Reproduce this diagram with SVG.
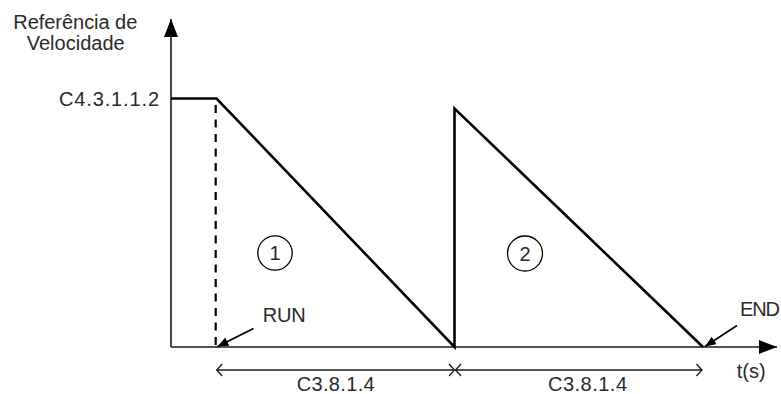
<svg xmlns="http://www.w3.org/2000/svg" width="781" height="394" viewBox="0 0 781 394">
<style>
text{font-family:"Liberation Sans",Arial,sans-serif;font-size:20px;fill:#2a2a2a}
.ax{stroke:#1a1a1a;stroke-width:1.6;fill:none}
.cv{stroke:#000;stroke-width:2.6;fill:none;stroke-linejoin:miter}
.dash{stroke:#000;stroke-width:2.2;stroke-dasharray:8 6.5;fill:none}
.ptr{stroke:#000;stroke-width:1.6;fill:none}
.dim{stroke:#1a1a1a;stroke-width:1.3;fill:none}
.cir{stroke:#000;stroke-width:1.3;fill:#fff}
</style>
<defs>
<marker id="big" markerUnits="userSpaceOnUse" markerWidth="20" markerHeight="16" refX="18" refY="7" orient="auto"><path d="M0,0 L18,7 L0,14 Z" fill="#000"/></marker>
<marker id="small" markerUnits="userSpaceOnUse" markerWidth="12" markerHeight="10" refX="11" refY="4.5" orient="auto"><path d="M0,0 L11,4.5 L0,9 Z" fill="#000"/></marker>
<marker id="chev" markerUnits="userSpaceOnUse" markerWidth="10" markerHeight="16" refX="7" refY="7" orient="auto-start-reverse"><path d="M1.5,1 L7,7 L1.5,13" stroke="#1a1a1a" stroke-width="1.3" fill="none"/></marker>
</defs>

<g id="axes">
<line class="ax" x1="171" y1="347" x2="171" y2="19" marker-end="url(#big)"/>
<line class="ax" x1="171" y1="347" x2="777" y2="347" marker-end="url(#big)"/>
</g>

<g id="curve">
<polyline class="cv" points="171,98.5 216.5,98.5 454.5,347 454.5,108.5 703,347"/>
<line class="dash" x1="215.7" y1="105" x2="215.7" y2="347"/>
</g>

<g id="connectors">
<line class="ptr" x1="253.5" y1="328.5" x2="217.5" y2="346.5" marker-end="url(#small)"/>
<line class="ptr" x1="737" y1="325.5" x2="705" y2="346.5" marker-end="url(#small)"/>
<line class="dim" x1="216.7" y1="370" x2="454.5" y2="370" marker-start="url(#chev)" marker-end="url(#chev)"/>
<line class="dim" x1="455.5" y1="370" x2="702" y2="370" marker-start="url(#chev)" marker-end="url(#chev)"/>
</g>

<g id="axis-labels">
<text x="13.3" y="28.5" textLength="124">Referência de</text>
<text x="26.7" y="49.5" textLength="98">Velocidade</text>
<text x="59" y="105.5" textLength="100">C4.3.1.1.2</text>
<text x="736.7" y="377.5" textLength="29">t(s)</text>
</g>

<g id="run">
<text x="262.7" y="322" textLength="43">RUN</text>
</g>
<g id="end">
<text x="740" y="316.3" textLength="40">END</text>
</g>

<g id="dim1"><text x="296.7" y="390.5" textLength="78">C3.8.1.4</text></g>
<g id="dim2"><text x="548" y="390.5" textLength="79">C3.8.1.4</text></g>

<g id="region1">
<circle class="cir" cx="275" cy="253" r="17.2"/>
<text x="275" y="260" text-anchor="middle">1</text>
</g>
<g id="region2">
<circle class="cir" cx="525" cy="253.5" r="17.5"/>
<text x="525" y="260.5" text-anchor="middle">2</text>
</g>
</svg>
